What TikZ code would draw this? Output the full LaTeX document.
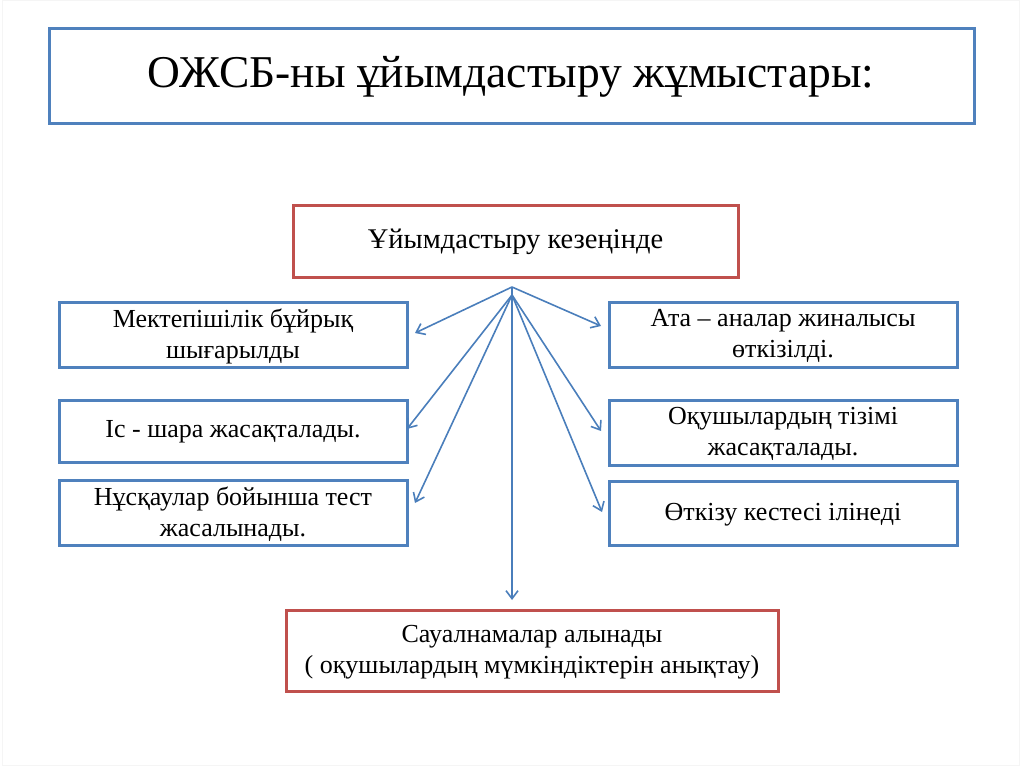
\documentclass[tikz,border=0pt]{standalone}
\usepackage{fontspec}
\setmainfont{Liberation Serif}
\usetikzlibrary{arrows.meta}
\definecolor{bblue}{RGB}{79,129,189}
\definecolor{rred}{RGB}{192,80,77}
\definecolor{ablue}{RGB}{74,126,187}
\begin{document}
\begin{tikzpicture}[x=1pt,y=-1pt,
  bluebox/.style={draw=bblue,line width=3pt,fill=white},
  redbox/.style={draw=rred,line width=3pt,fill=white},
  lbl/.style={align=center,font=\fontsize{26}{31}\selectfont,text=black},
  conn/.style={draw=ablue,line width=1.6pt,-{Straight Barb[length=8pt,width=12pt,line width=1.6pt]}}]
\useasboundingbox (0,0) rectangle (1024,767);
\draw[gray!8,line width=1pt] (2,1) rectangle (1019,765);
% title
\draw[bluebox] (49,29) rectangle (974,124);
\node[font=\fontsize{45.5}{50}\selectfont] (title) at (511,77) {ОЖСБ-ны ұйымдастыру жұмыстары:};
% top red box
\draw[redbox] (293,206) rectangle (738,277);
\node[lbl,font=\fontsize{28.5}{33}\selectfont] (top) at (515.5,242) {Ұйымдастыру кезеңінде};
% left boxes
\draw[bluebox] (59,302) rectangle (407,367);
\node[lbl] (l1) at (233,336) {Мектепішілік бұйрық\\шығарылды};
\draw[bluebox] (59,400) rectangle (407,462);
\node[lbl] (l2) at (233,432) {Іс - шара жасақталады.};
\draw[bluebox] (59,480) rectangle (407,545);
\node[lbl] (l3) at (233,514) {Нұсқаулар бойынша тест\\жасалынады.};
% right boxes
\draw[bluebox] (609,302) rectangle (957,367);
\node[lbl] (r1) at (783,336) {Ата – аналар жиналысы\\өткізілді.};
\draw[bluebox] (609,400) rectangle (957,465);
\node[lbl] (r2) at (783,434) {Оқушылардың тізімі\\жасақталады.};
\draw[bluebox] (609,481) rectangle (957,545);
\node[lbl] (r3) at (783,515) {Өткізу кестесі ілінеді};
% bottom red box
\draw[redbox] (286,610) rectangle (778,691);
\node[lbl] (bot) at (532,652) {Сауалнамалар алынады\\( оқушылардың мүмкіндіктерін анықтау)};
% connector ends
\coordinate (o) at (512,287);
\coordinate (o2) at (512,295);
\coordinate (el1) at (415,333);
\coordinate (el2) at (407,429);
\coordinate (el3) at (415,503);
\coordinate (er1) at (601,326);
\coordinate (er2) at (601,431);
\coordinate (er3) at (602,512);
\coordinate (eb) at (512,600);
\draw[conn] (o) -- (el1);
\draw[conn] (o) -- (er1);
\draw[conn] (o2) -- (el2);
\draw[conn] (o2) -- (el3);
\draw[conn] (o2) -- (er2);
\draw[conn] (o2) -- (er3);
\draw[conn] (o) -- (eb);
\end{tikzpicture}
\end{document}
